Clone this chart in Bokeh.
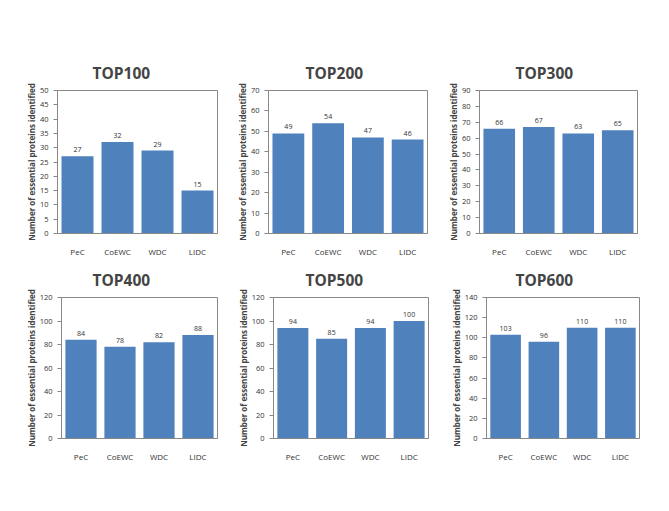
from bokeh.plotting import figure
from bokeh.models import ColumnDataSource, FixedTicker, Range1d, FactorRange
from bokeh.layouts import column, row
from bokeh.embed import file_html
from bokeh.resources import INLINE

categories = ["PeC", "CoEWC", "WDC", "LIDC"]
titles = ["TOP100", "TOP200", "TOP300", "TOP400", "TOP500", "TOP600"]
top100 = [27, 32, 29, 15]
top200 = [49, 54, 47, 46]
top300 = [66, 67, 63, 65]
top400 = [84, 78, 82, 88]
top500 = [94, 85, 94, 100]
top600 = [103, 96, 110, 110]
series = [top100, top200, top300, top400, top500, top600]
y_max = [50, 70, 90, 120, 120, 140]
y_step = [5, 10, 10, 20, 20, 20]
y_label = "Number of essential proteins identified"

# layout: (border_left, frame_w, border_right, frame_h, border_top, border_bottom, title_offset, title_standoff)
layout_params = [
    (57, 160, 10, 143, 90, 24, 35, 13),
    (41, 159, 10, 143, 90, 24, 37, 13),
    (42, 158, 10, 143, 90, 24, 36, 13),
    (61, 156, 10, 141, 30, 30, 31, 14),
    (46, 155, 10, 141, 30, 30, 32, 14),
    (48, 153, 10, 141, 30, 30, 29, 14),
]

BAR = "#4F81BD"
FONT = "Open Sans"

figs = []
for i in range(6):
    bl, fw, br, fh, bt, bb, toff, tsd = layout_params[i]
    vals = series[i]
    src = ColumnDataSource(dict(cat=categories, val=vals, lab=[str(v) for v in vals]))
    p = figure(x_range=FactorRange(*categories, range_padding=0),
               y_range=Range1d(0, y_max[i]),
               frame_width=fw, frame_height=fh,
               min_border_left=bl, min_border_right=br,
               min_border_top=bt, min_border_bottom=bb,
               output_backend="svg", toolbar_location=None,
               title=titles[i])
    p.x_range.range_padding = 0
    p.title.text_font = FONT
    p.title.text_font_size = "15.5px"
    p.title.text_font_style = "bold"
    p.title.align = "left"
    p.title.offset = toff
    p.title.standoff = tsd
    p.vbar(x="cat", top="val", width=0.8, source=src, fill_color=BAR, line_color=None)
    p.text(x="cat", y="val", text="lab", source=src, text_align="center",
           text_baseline="bottom", y_offset=-4, text_font_size="7px",
           text_color="#333333", text_font={"value": FONT})
    p.xgrid.visible = False
    p.ygrid.visible = False
    p.outline_line_color = "#888888"
    p.outline_line_width = 1
    p.yaxis.ticker = FixedTicker(ticks=list(range(0, y_max[i] + 1, y_step[i])))
    p.yaxis.axis_label = y_label
    p.yaxis.axis_label_text_font = FONT
    p.yaxis.axis_label_text_font_size = "8px"
    p.yaxis.axis_label_text_font_style = "bold"
    p.yaxis.axis_label_standoff = 0
    p.yaxis.major_label_text_font = FONT
    p.yaxis.major_label_text_font_size = "7.5px"
    p.yaxis.major_label_text_color = "#333333"
    p.yaxis.major_label_standoff = 5
    p.yaxis.major_tick_in = 0
    p.yaxis.major_tick_out = 4
    p.yaxis.minor_tick_line_color = None
    p.yaxis.axis_line_color = "#888888"
    p.yaxis.major_tick_line_color = "#888888"
    p.xaxis.major_tick_line_color = None
    p.xaxis.minor_tick_line_color = None
    p.xaxis.axis_line_color = "#888888"
    p.xaxis.major_label_text_font = FONT
    p.xaxis.major_label_text_font_size = "8px"
    p.xaxis.major_label_text_color = "#333333"
    p.xaxis.major_label_standoff = 6
    p.background_fill_color = "white"
    p.border_fill_color = "white"
    figs.append(p)

layout = column(row(*figs[:3]), row(*figs[3:]))
open("out.html", "w").write(file_html(layout, INLINE))
